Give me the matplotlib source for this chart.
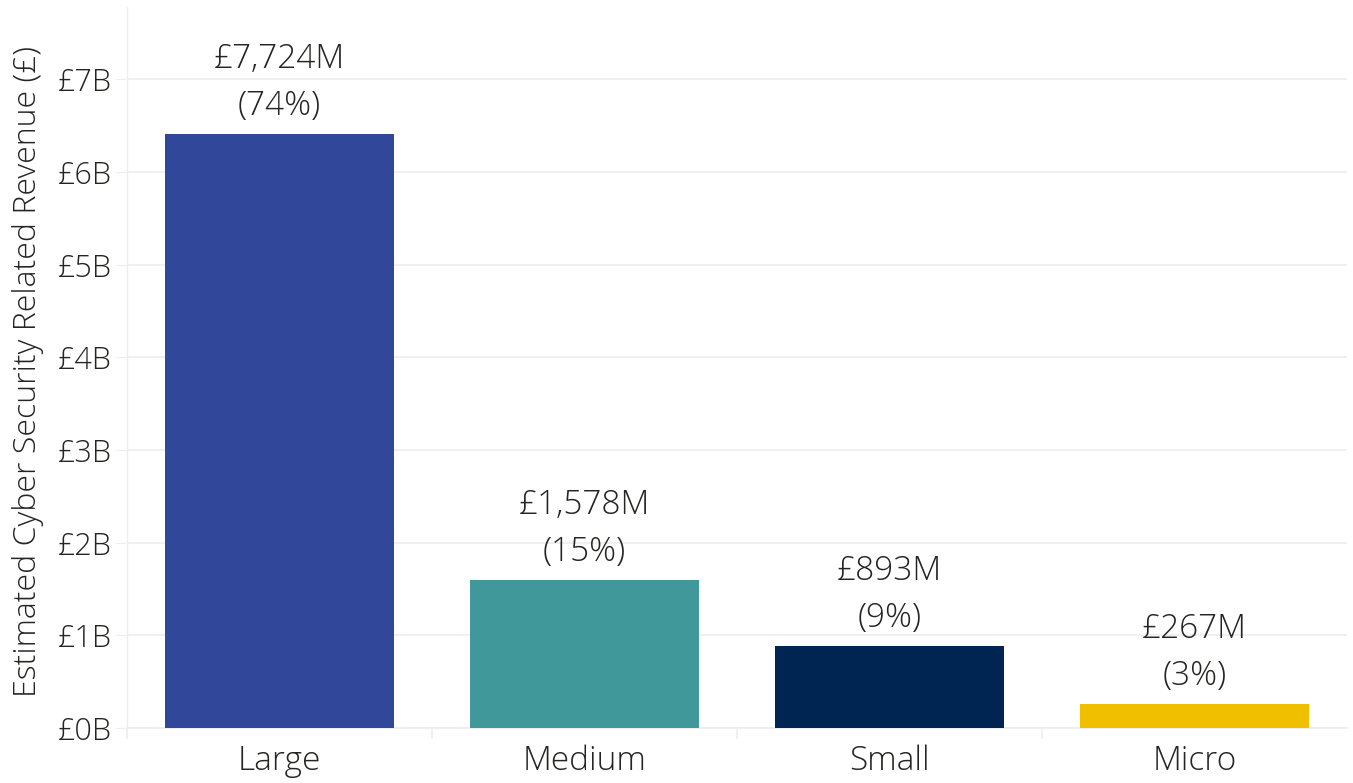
import matplotlib
matplotlib.use("Agg")
import matplotlib.pyplot as plt
from matplotlib.ticker import FixedLocator

# Data
categories = ["Large", "Medium", "Small", "Micro"]
bar_heights = [6410, 1600, 885, 262]          # bar heights as drawn (£M)
value_labels = ["£7,724M", "£1,578M", "£893M", "£267M"]
pct_labels = ["(74%)", "(15%)", "(9%)", "(3%)"]
bar_colors = ["#31479A", "#41989A", "#012552", "#F0BF00"]
y_ticks = [0, 1000, 2000, 3000, 4000, 5000, 6000, 7000]
y_tick_labels = ["£0B", "£1B", "£2B", "£3B", "£4B", "£5B", "£6B", "£7B"]

plt.rcParams["font.family"] = ["Open Sans", "DejaVu Sans"]
text_color = "#252423"
grid_color = "#EDEDED"

fig = plt.figure(figsize=(13.53, 7.83), dpi=100)
ax = fig.add_axes([0.0939, 0.0702, 0.9017, 0.9208])

x = list(range(len(categories)))
ax.bar(x, bar_heights, width=0.75, color=bar_colors, zorder=3)

ax.set_xlim(-0.5, 3.5)
ax.set_ylim(0, 7780)

# value labels above bars
for xi, h, v, p in zip(x, bar_heights, value_labels, pct_labels):
    ax.annotate(p, (xi, h), xytext=(0, 20), textcoords="offset points",
                ha="center", va="center", fontsize=24, fontweight="light", color=text_color)
    ax.annotate(v, (xi, h), xytext=(0, 54), textcoords="offset points",
                ha="center", va="center", fontsize=24, fontweight="light", color=text_color)

# y axis
ax.set_yticks(y_ticks)
ax.set_yticklabels(y_tick_labels)
ax.tick_params(axis="y", length=8, color=grid_color, labelsize=22, labelcolor=text_color, pad=3)
for lbl in ax.get_yticklabels():
    lbl.set_fontweight("light")
ax.grid(axis="y", color=grid_color, linewidth=1.2, zorder=0)
ax.set_ylabel("Estimated Cyber Security Related Revenue (£)", fontsize=23,
              fontweight="light", color=text_color)
ax.yaxis.set_label_coords(-0.068, 0.495)

# x axis: labels at centers, tick marks at category boundaries
ax.set_xticks(x)
ax.set_xticklabels(categories)
ax.tick_params(axis="x", length=0, labelsize=24, labelcolor=text_color, pad=12)
for lbl in ax.get_xticklabels():
    lbl.set_fontweight("light")
ax.xaxis.set_minor_locator(FixedLocator([-0.5, 0.5, 1.5, 2.5]))
ax.tick_params(axis="x", which="minor", length=8, color=grid_color, width=1.2)

for side in ["top", "right"]:
    ax.spines[side].set_visible(False)
ax.spines["left"].set_color(grid_color)
ax.spines["left"].set_linewidth(1.0)
ax.spines["bottom"].set_color(grid_color)
ax.spines["bottom"].set_linewidth(1.2)

fig.savefig("out.png", dpi=100)
